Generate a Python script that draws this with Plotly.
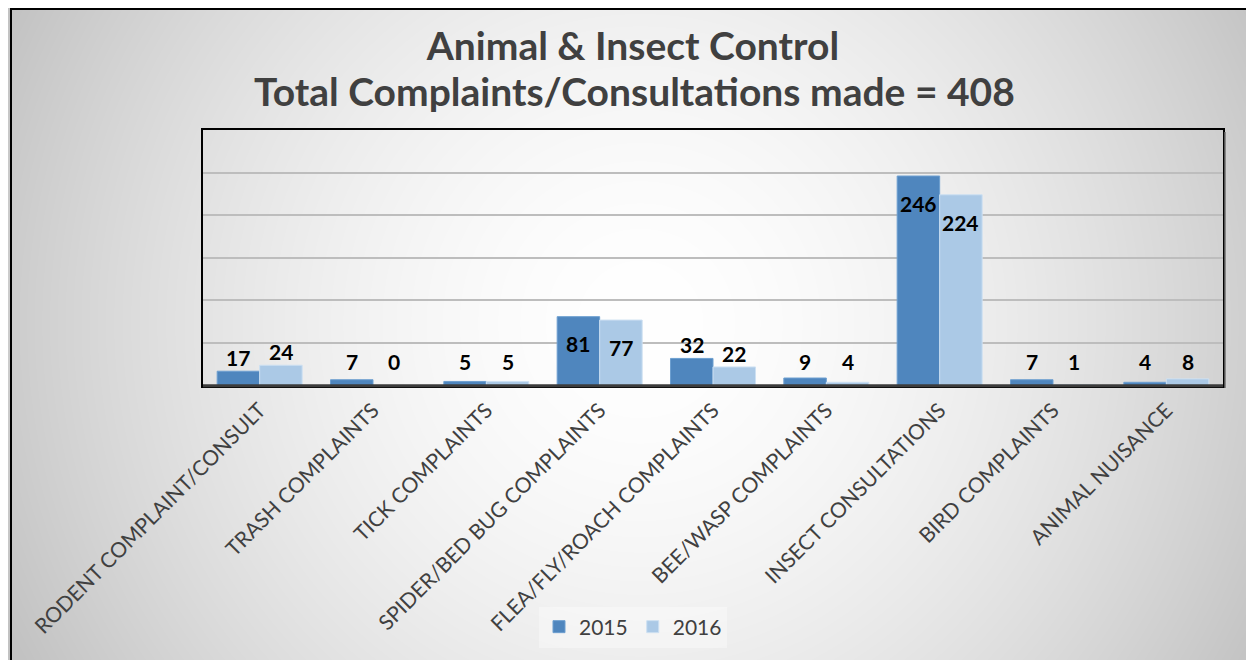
import base64
import struct
import zlib

import numpy as np
import plotly.graph_objects as go

# ---------------- data ----------------
categories = [
    "RODENT COMPLAINT/CONSULT",
    "TRASH COMPLAINTS",
    "TICK COMPLAINTS",
    "SPIDER/BED BUG COMPLAINTS",
    "FLEA/FLY/ROACH COMPLAINTS",
    "BEE/WASP COMPLAINTS",
    "INSECT CONSULTATIONS",
    "BIRD COMPLAINTS",
    "ANIMAL NUISANCE",
]
values_2015 = [17, 7, 5, 81, 32, 9, 246, 7, 4]
values_2016 = [24, 0, 5, 77, 22, 4, 224, 1, 8]
series_names = ["2015", "2016"]
title_line1 = "Animal & Insect Control"
title_line2 = "Total Complaints/Consultations made = 408"

# ---------------- style ----------------
W, H = 1254, 660
OFF = 8  # page body margin
FONT = "Lato"
C2015 = "#4f86be"
C2016 = "#abc9e6"
BARGAP = 0.25
Y_MAX = 300


def px(xp):
    return (xp - OFF) / W


def py(yp):
    return 1 - (yp - OFF) / H


# background radial gradient (styling only)
yy, xx = np.mgrid[0:H, 0:W]
cx, cy = 632, 315
d = np.sqrt((xx - cx) ** 2 + (yy - cy) ** 2) / np.sqrt(cx ** 2 + cy ** 2)
img = (255 - (255 - 194) * np.clip(d, 0, 1) ** 1.7).astype(np.uint8)
raw = b"".join(b"\x00" + img[r].tobytes() for r in range(H))


def _chunk(t, data):
    return struct.pack(">I", len(data)) + t + data + struct.pack(">I", zlib.crc32(t + data) & 0xFFFFFFFF)


png = (b"\x89PNG\r\n\x1a\n"
       + _chunk(b"IHDR", struct.pack(">IIBBBBB", W, H, 8, 0, 0, 0, 0))
       + _chunk(b"IDAT", zlib.compress(raw, 9))
       + _chunk(b"IEND", b""))
bg_uri = "data:image/png;base64," + base64.b64encode(png).decode()

fig = go.Figure()
fig.add_trace(go.Bar(x=categories, y=values_2015, name=series_names[0],
                     marker=dict(color=C2015, line=dict(color="#6d9fd0", width=1))))
fig.add_trace(go.Bar(x=categories, y=values_2016, name=series_names[1],
                     marker=dict(color=C2016, line=dict(color="#cde0f2", width=1))))

# data labels
half = (1 - BARGAP) / 4
annotations = []
for si, vals in enumerate([values_2015, values_2016]):
    off = -half if si == 0 else half
    for i, v in enumerate(vals):
        if v > 60:
            ylab = v - 32
        else:
            ylab = max(v + 16, 28)
        annotations.append(dict(x=i + off, y=ylab, xref="x", yref="y", text=str(v),
                                showarrow=False, yanchor="middle",
                                font=dict(family=FONT, size=21, color="#000000", weight="bold")))

annotations.append(dict(x=px(634), y=py(91), xref="paper", yref="paper", text=title_line2,
                        showarrow=False, xanchor="center", yanchor="middle",
                        font=dict(family=FONT, size=39, color="#404040", weight="bold")))

dom_x = [px(203), px(1223)]
dom_y = [py(385.7), py(130)]

fig.update_layout(
    width=W, height=H,
    margin=dict(l=0, r=0, t=0, b=0),
    paper_bgcolor="rgba(0,0,0,0)",
    plot_bgcolor="rgba(0,0,0,0)",
    barmode="group", bargap=BARGAP, bargroupgap=0,
    font=dict(family=FONT, color="#404040"),
    title=dict(text=title_line1, x=px(633), xanchor="center", xref="paper",
               y=py(46), yanchor="middle", yref="paper",
               font=dict(family=FONT, size=39, color="#404040", weight="bold")),
    legend=dict(orientation="h", x=px(633), xanchor="center", y=py(627), yanchor="middle",
                bgcolor="rgba(255,255,255,0.35)", font=dict(family=FONT, size=21, color="#404040"),
                traceorder="normal"),
    xaxis=dict(domain=dom_x, showline=True, linecolor="#000000", linewidth=2, mirror=True,
               ticks="", tickangle=-45, ticklabelstandoff=2,
               tickfont=dict(family=FONT, size=21, color="#404040"), automargin=False),
    yaxis=dict(domain=dom_y, range=[0, Y_MAX], dtick=50, showticklabels=False,
               showgrid=True, gridcolor="#bdbdbd", gridwidth=1.5, zeroline=False,
               showline=True, linecolor="#000000", linewidth=2, mirror=True, automargin=False),
    images=[dict(source=bg_uri, xref="paper", yref="paper", x=0, y=1, sizex=1, sizey=1,
                 xanchor="left", yanchor="top", sizing="stretch", layer="below")],
    annotations=annotations,
    shapes=[
        dict(type="rect", xref="paper", yref="paper", x0=px(11), y0=-0.05, x1=1.05, y1=py(9),
             line=dict(color="#000000", width=2), fillcolor="rgba(0,0,0,0)"),
        dict(type="line", xref="x domain", yref="y domain", x0=0, x1=1, y0=0, y1=0,
             line=dict(color="#3c3c3c", width=3)),
        dict(type="line", xref="paper", yref="paper", x0=px(1225), x1=px(1225),
             y0=py(388), y1=py(132), line=dict(color="#707070", width=1.5)),
    ],
)

fig.write_html("out.html")
